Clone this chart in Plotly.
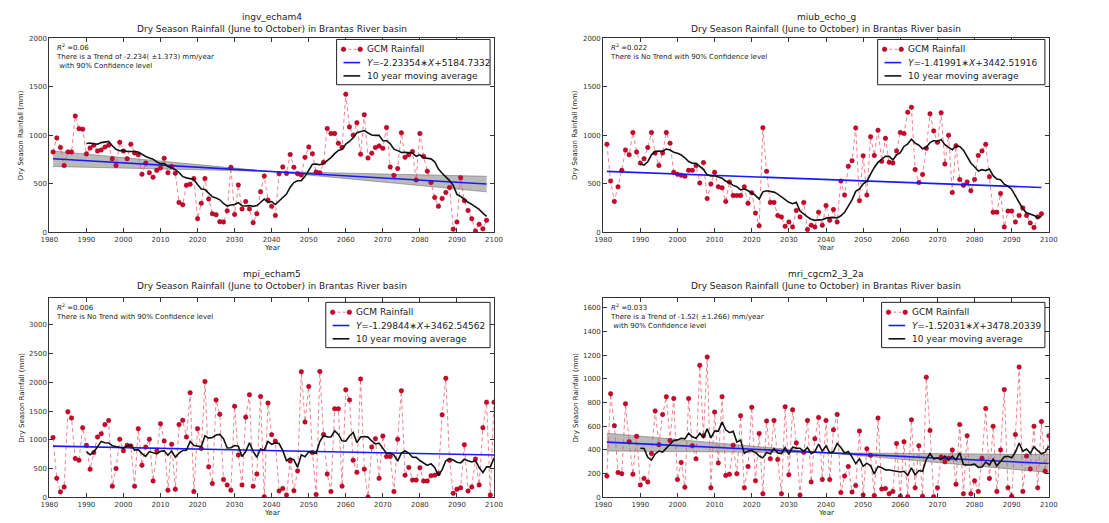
import pandas as pd
import plotly.graph_objects as go

# ---------------- data ----------------
years_ingv = list(range(1981, 2099))
rain_ingv = [
    830, 975, 875, 690, 830, 830, 1200, 1070, 1065, 810,
    870, 900, 840, 850, 880, 900, 760, 690, 930, 840,
    760, 910, 820, 800, 600, 715, 615, 570, 640, 665,
    765, 615, 680, 610, 310, 285, 487, 497, 555, 142,
    300, 555, 345, 193, 182, 111, 108, 223, 672, 186,
    490, 243, 318, 243, 101, 193, 419, 581, 334, 270,
    176, 605, 676, 608, 804, 672, 605, 591, 774, 882,
    811, 622, 615, 723, 1071, 1020, 1020, 919, 878, 1426,
    1088, 1003, 1132, 807, 1213, 767, 817, 875, 892, 868,
    1081, 676, 588, 659, 1027, 774, 801, 834, 541, 1020,
    784, 632, 514, 361, 270, 351, 412, 463, 34, 108,
    564, 328, 226, 142, 14, 84, 37, 125,
]

years_miub = list(range(1981, 2099))
rain_miub = [
    910, 530, 320, 470, 640, 850, 800, 1030, 830, 715,
    760, 875, 1030, 820, 690, 820, 1030, 920, 620, 600,
    590, 580, 640, 640, 690, 510, 720, 350, 500, 620,
    470, 460, 320, 520, 380, 380, 380, 470, 300, 410,
    200, 70, 1080, 630, 310, 310, 175, 160, 64, 108,
    57, 226, 160, 310, 30, 74, 57, 209, 74, 277,
    125, 236, 108, 530, 385, 682, 740, 1078, 328, 790,
    385, 986, 794, 1054, 733, 970, 723, 716, 841, 1030,
    1020, 1240, 1290, 649, 514, 598, 868, 1223, 1047, 929,
    1233, 706, 1003, 412, 895, 547, 486, 520, 429, 547,
    794, 841, 909, 574, 209, 209, 402, 57, 220, 220,
    108, 175, 253, 175, 98, 50, 160, 192,
]

years_mpi = list(range(1981, 2101))
rain_mpi = [
    1040, 330, 95, 180, 1490, 1380, 675, 645, 1210, 905,
    490, 780, 1050, 1105, 1265, 1335, 195, 500, 1010, 810,
    905, 895, 195, 1195, 560, 875, 1010, 285, 810, 1280,
    980, 125, 925, 140, 1265, 1340, 1050, 1820, 100, 1195,
    850, 2015, 530, 240, 1695, 1445, 310, 215, 125, 1585,
    735, 215, 1395, 1785, 195, 405, 1755, 10, 1640, 1090,
    975, 110, 155, 40, 630, 115, 460, 2185, 1310, 1930,
    780, 50, 2190, 1095, 405, 100, 1540, 1540, 195, 1870,
    1695, 645, 435, 2060, 490, 5, 875, 1020, 330, 1065,
    710, 710, 100, 1010, 1855, 385, 520, 300, 300, 515,
    285, 285, 375, 385, 415, 1435, 2070, 645, 70, 140,
    165, 915, 110, 180, 665, 215, 1210, 1655, 40, 1655,
]

years_mri = list(range(1981, 2101))
rain_mri = [
    180, 875, 605, 210, 200, 790, 470, 195, 515, 105,
    160, 130, 370, 730, 445, 700, 850, 480, 835, 150,
    295, 85, 835, 435, 325, 1115, 520, 1185, 80, 720,
    290, 850, 185, 195, 440, 200, 690, 80, 260, 760,
    140, 540, 30, 645, 325, 650, 320, 30, 765, 190,
    740, 460, 20, 380, 650, 130, 495, 675, 150, 650,
    150, 570, 700, 40, 180, 260, 45, 100, 560, 20,
    410, 355, 15, 670, 70, 75, 30, 50, 455, 10,
    470, 5, 655, 80, 435, 10, 1015, 565, 5, 80,
    340, 300, 330, 400, 110, 615, 30, 520, 30, 140,
    50, 330, 750, 160, 600, 50, 400, 910, 80, 10,
    530, 1100, 50, 350, 240, 600, 80, 640, 220, 520,
]

model_names = ["ingv_echam4", "miub_echo_g", "mpi_echam5", "mri_cgcm2_3_2a"]
trend_slopes = [-2.23354, -1.41991, -1.29844, -1.52031]
trend_intercepts = [5184.7332, 3442.51916, 3462.54562, 3478.20339]
equation_labels = ["-2.23354", "-1.41991", "-1.29844", "-1.52031"]
intercept_labels = ["5184.7332", "3442.51916", "3462.54562", "3478.20339"]
r_squared = ["0.06", "0.022", "0.006", "0.033"]
slope_ci = [1.373, None, None, 1.266]          # 90% interval on the slope
trend_notes = [
    "There is a Trend of -2.234( \u00b11.373) mm/year<br> with 90% Confidence level",
    "There is No Trend with 90% Confidence level",
    "There is No Trend with 90% Confidence level",
    "There is a Trend of -1.52( \u00b11.266) mm/year<br> with 90% Confidence level",
]
y_max = [2000, 2000, 3460, 1680]
y_step = [500, 500, 500, 200]
x_ticks = list(range(1980, 2101, 10))

all_years = [years_ingv, years_miub, years_mpi, years_mri]
all_rain = [rain_ingv, rain_miub, rain_mpi, rain_mri]

# ---------------- styling ----------------
W, H = 1109, 523
FONT = "DejaVu Sans"
TXT = "#222222"
RAIN_LINE = "rgba(230,80,100,0.7)"
RAIN_MARK = "#d0002a"
RAIN_EDGE = "#8a0018"
TREND_COL = "#1a1aff"
MA_COL = "#111111"


def fx(px):
    return px / W


def fy(py):
    return 1 - py / H


# plot-area boxes in pixels: left, right, top, bottom
boxes = [(41, 493, 35, 232), (604, 1057, 35, 232),
         (41, 493, 299, 501), (604, 1057, 299, 501)]
# legend frames in pixels: left, right, top, bottom
legend_frames = [(333, 489, 36, 82), (883, 1053, 36, 82),
                 (322, 489, 303, 349), (887, 1053, 303, 349)]

fig = go.Figure()
annotations = []
shapes = []
layout_axes = {}

for i in range(4):
    n = i + 1
    sfx = "" if n == 1 else str(n)
    xa, ya = "x" + sfx, "y" + sfx
    yrs, rain = all_years[i], all_rain[i]
    a, b = trend_slopes[i], trend_intercepts[i]
    x0, x1 = yrs[0], yrs[-1]

    # confidence wedge around the trend line (slope +/- interval, pivot at mean year)
    if slope_ci[i] is not None:
        xc = sum(yrs) / len(yrs)
        yc = a * xc + b
        ci = slope_ci[i]
        bx = [x0, xc, x1]
        lo_s = [yc + (a - ci) * (x - xc) for x in bx]
        hi_s = [yc + (a + ci) * (x - xc) for x in bx]
        upper = [max(p, q) for p, q in zip(lo_s, hi_s)]
        lower = [min(p, q) for p, q in zip(lo_s, hi_s)]
        fig.add_trace(go.Scatter(x=bx, y=upper, mode="lines",
                                 line=dict(color="rgba(90,90,90,0.6)", width=0.8),
                                 showlegend=False, hoverinfo="skip",
                                 xaxis=xa, yaxis=ya))
        fig.add_trace(go.Scatter(x=bx, y=lower, mode="lines", fill="tonexty",
                                 fillcolor="rgba(130,130,130,0.55)",
                                 line=dict(color="rgba(90,90,90,0.6)", width=0.8),
                                 showlegend=False, hoverinfo="skip",
                                 xaxis=xa, yaxis=ya))

    # yearly GCM rainfall
    fig.add_trace(go.Scatter(
        x=yrs, y=rain, mode="lines+markers", name="GCM Rainfall",
        line=dict(color=RAIN_LINE, width=1, dash="4px,3px"),
        marker=dict(color=RAIN_MARK, size=4.5, line=dict(color=RAIN_EDGE, width=0.5)),
        showlegend=False, xaxis=xa, yaxis=ya))

    # linear trend from the fitted coefficients
    fig.add_trace(go.Scatter(
        x=[x0, x1], y=[a * x0 + b, a * x1 + b], mode="lines", name="trend",
        line=dict(color=TREND_COL, width=1.6),
        showlegend=False, xaxis=xa, yaxis=ya))

    # 10-year moving average
    ma = pd.Series(rain, index=yrs).rolling(10).mean().dropna()
    fig.add_trace(go.Scatter(
        x=list(ma.index), y=list(ma.values), mode="lines",
        name="10 year moving average",
        line=dict(color=MA_COL, width=1.6),
        showlegend=False, xaxis=xa, yaxis=ya))

    L, R, T, B = boxes[i]
    axis_common = dict(showgrid=False, zeroline=False, showline=True,
                       linecolor="#333333", linewidth=1, mirror="allticks",
                       ticks="inside", ticklen=4, tickcolor="#333333",
                       tickfont=dict(family=FONT, size=7, color="#333333"))
    layout_axes["xaxis" + sfx] = dict(
        domain=[fx(L), fx(R)], range=[1980, 2100], anchor=ya,
        tickvals=x_ticks, ticktext=[str(t) for t in x_ticks], **axis_common)
    yt = list(range(0, int(y_max[i]) + 1, y_step[i]))
    layout_axes["yaxis" + sfx] = dict(
        domain=[fy(B), fy(T)], range=[0, y_max[i]], anchor=xa,
        tickvals=yt, ticktext=[str(t) for t in yt], **axis_common)

    cx = fx((L + R) / 2)
    title_off = 22 if i < 2 else 25
    annotations += [
        dict(text=model_names[i], x=cx, y=fy(T - title_off), xref="paper", yref="paper",
             xanchor="center", yanchor="middle",
             showarrow=False, font=dict(family=FONT, size=9, color=TXT)),
        dict(text="Dry Season Rainfall (June to October) in Brantas River basin",
             x=cx, y=fy(T - title_off + 12), xref="paper", yref="paper",
             xanchor="center", yanchor="middle",
             showarrow=False, font=dict(family=FONT, size=9, color=TXT)),
        dict(text="Year", x=cx, y=fy(B + 16), xref="paper", yref="paper",
             xanchor="center", yanchor="middle",
             showarrow=False, font=dict(family=FONT, size=7, color=TXT)),
        dict(text="Dry Season Rainfall (mm)", x=fx(L - 28), y=fy((T + B) / 2),
             xref="paper", yref="paper", textangle=-90, showarrow=False,
             xanchor="center", yanchor="middle",
             font=dict(family=FONT, size=7, color=TXT)),
        dict(text="<i>R</i><sup>2</sup> =" + r_squared[i] + "<br>" + trend_notes[i],
             x=fx(L + 5), y=fy(T + 2), xref="paper", yref="paper",
             xanchor="left", yanchor="top", align="left", showarrow=False,
             font=dict(family=FONT, size=7, color=TXT)),
    ]

    # legend box: frame, sample glyphs and entry labels
    bl, br, bt, bb = legend_frames[i]
    shapes.append(dict(type="rect", xref="paper", yref="paper", layer="above",
                       x0=fx(bl), x1=fx(br), y0=fy(bb), y1=fy(bt),
                       line=dict(color="#222222", width=1), fillcolor="white"))
    rows = [bt + 10, bt + 23.5, bt + 37]
    s0, s1 = bl + 7, bl + 24
    shapes.append(dict(type="line", xref="paper", yref="paper", layer="above",
                       x0=fx(s0), x1=fx(s1), y0=fy(rows[0]), y1=fy(rows[0]),
                       line=dict(color=RAIN_LINE, width=1, dash="3px,2px")))
    for sx in (s0, s1):
        shapes.append(dict(type="circle", xref="paper", yref="paper", layer="above",
                           xsizemode="pixel", ysizemode="pixel",
                           xanchor=fx(sx), yanchor=fy(rows[0]),
                           x0=-2.3, x1=2.3, y0=-2.3, y1=2.3,
                           fillcolor=RAIN_MARK, line=dict(color=RAIN_EDGE, width=0.5)))
    shapes.append(dict(type="line", xref="paper", yref="paper", layer="above",
                       x0=fx(s0), x1=fx(s1), y0=fy(rows[1]), y1=fy(rows[1]),
                       line=dict(color=TREND_COL, width=1.6)))
    shapes.append(dict(type="line", xref="paper", yref="paper", layer="above",
                       x0=fx(s0), x1=fx(s1), y0=fy(rows[2]), y1=fy(rows[2]),
                       line=dict(color=MA_COL, width=1.6)))
    labels = ["GCM Rainfall",
              "<i>Y</i>=%s\u2217<i>X</i>+%s" % (equation_labels[i], intercept_labels[i]),
              "10 year moving average"]
    for ry, lab in zip(rows, labels):
        annotations.append(dict(text=lab, x=fx(bl + 29), y=fy(ry), xref="paper",
                                yref="paper", xanchor="left", yanchor="middle",
                                showarrow=False,
                                font=dict(family=FONT, size=9, color=TXT)))

fig.update_layout(
    width=W, height=H,
    margin=dict(l=0, r=0, t=0, b=0),
    paper_bgcolor="white", plot_bgcolor="white",
    font=dict(family=FONT, color=TXT),
    annotations=annotations,
    shapes=shapes,
    showlegend=False,
    **layout_axes,
)

fig.write_html("out.html")
